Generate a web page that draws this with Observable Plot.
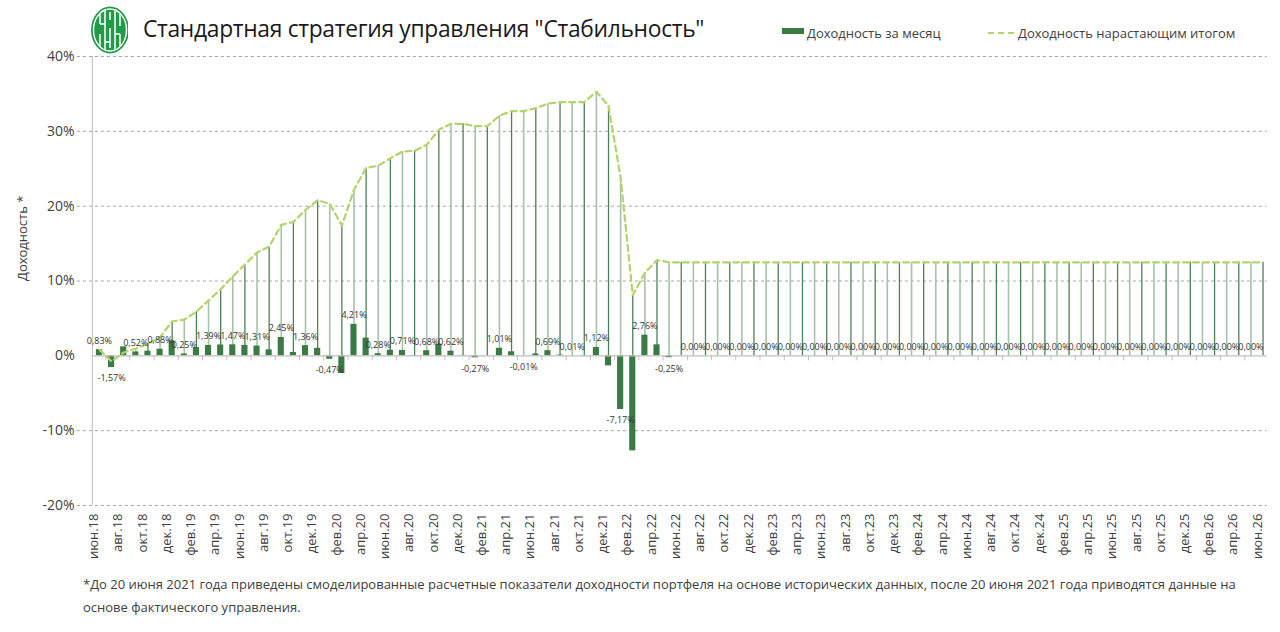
<!DOCTYPE html>
<html>
<head>
<meta charset="utf-8">
<script src="https://cdn.jsdelivr.net/npm/d3@7"></script>
<script src="https://cdn.jsdelivr.net/npm/@observablehq/plot@0.6"></script>
<style>
  html, body { margin: 0; padding: 0; background: #fff; }
  #wrap { position: relative; width: 1280px; height: 632px; overflow: hidden; font-family: "Open Sans", sans-serif; color: #404040; }
  #header { position: relative; height: 48px; }
  #logo { position: absolute; left: 88px; top: 4px; }
  #title { position: absolute; left: 143px; top: 13px; font-size: 22.8px; font-weight: 400; color: #1a1a1a; white-space: nowrap; letter-spacing: -0.3px; }
  .leg { position: absolute; top: 24px; font-size: 13px; color: #404040; white-space: nowrap; }
  #chart svg { display: block; }
  #foot { position: absolute; left: 83px; top: 573px; font-size: 13px; line-height: 23px; color: #404040; white-space: nowrap; }
</style>
</head>
<body>
<div id="wrap">
  <div id="header">
    <svg id="logo" width="44" height="54" viewBox="0 0 44 54">
      <defs><clipPath id="cl"><rect x="0" y="0" width="40" height="54"/></clipPath></defs>
      <g clip-path="url(#cl)">
        <ellipse cx="22" cy="26" rx="19" ry="23.5" fill="#249a48"/>
        <ellipse cx="22" cy="26" rx="16.5" ry="21" fill="none" stroke="#fff" stroke-width="1.4"/>
        <path d="M12 10 V20 M12 30 V42 M17 6 V46 M22 8 V16 M22 24 V44 M27 6 V46 M32 10 V22 M32 30 V42 M12 20 H17 M27 30 H32 M17 38 H22" stroke="#fff" stroke-width="1.5" fill="none"/>
      </g>
    </svg>
    <div id="title">Стандартная стратегия управления "Стабильность"</div>
    <svg style="position:absolute;left:782px;top:28px" width="23" height="7"><rect x="0" y="0" width="22" height="6" fill="#3b7a45"/></svg>
    <div class="leg" style="left:807px">Доходность за месяц</div>
    <svg style="position:absolute;left:988px;top:30px" width="26" height="6"><line x1="0" y1="3" x2="26" y2="3" stroke="#b2d46c" stroke-width="2" stroke-dasharray="6,4"/></svg>
    <div class="leg" style="left:1018px">Доходность нарастающим итогом</div>
  </div>
  <div id="chart"></div>
  <div id="foot">*До 20 июня 2021 года приведены смоделированные расчетные показатели доходности портфеля на основе исторических данных, после 20 июня 2021 года приводятся данные на<br>основе фактического управления.</div>
</div>
<script>
const months = [
  "июн.18","июл.18","авг.18","сен.18","окт.18","ноя.18","дек.18",
  "янв.19","фев.19","мар.19","апр.19","май.19","июн.19","июл.19","авг.19","сен.19","окт.19","ноя.19","дек.19",
  "янв.20","фев.20","мар.20","апр.20","май.20","июн.20","июл.20","авг.20","сен.20","окт.20","ноя.20","дек.20",
  "янв.21","фев.21","мар.21","апр.21","май.21","июн.21","июл.21","авг.21","сен.21","окт.21","ноя.21","дек.21",
  "янв.22","фев.22","мар.22","апр.22","май.22","июн.22","июл.22","авг.22","сен.22","окт.22","ноя.22","дек.22",
  "янв.23","фев.23","мар.23","апр.23","май.23","июн.23","июл.23","авг.23","сен.23","окт.23","ноя.23","дек.23",
  "янв.24","фев.24","мар.24","апр.24","май.24","июн.24","июл.24","авг.24","сен.24","окт.24","ноя.24","дек.24",
  "янв.25","фев.25","мар.25","апр.25","май.25","июн.25","июл.25","авг.25","сен.25","окт.25","ноя.25","дек.25",
  "янв.26","фев.26","мар.26","апр.26","май.26","июн.26"
];
// Доходность за месяц, %
const monthly = [
  0.83, -1.57, 1.20, 0.52, 0.62, 0.88, 2.00,
  0.25, 1.10, 1.39, 1.45, 1.47, 1.40, 1.31, 0.80, 2.45, 0.45, 1.36, 1.00,
  -0.47, -2.37, 4.21, 2.37, 0.28, 0.76, 0.71, 0.05, 0.68, 1.56, 0.62, 0.05,
  -0.27, 0.02, 1.01, 0.54, -0.01, 0.25, 0.69, 0.10, 0.01, 0.05, 1.12, -1.34,
  -7.17, -12.70, 2.76, 1.47, -0.25, 0, 0, 0, 0, 0, 0, 0,
  0, 0, 0, 0, 0, 0, 0, 0, 0, 0, 0, 0,
  0, 0, 0, 0, 0, 0, 0, 0, 0, 0, 0, 0,
  0, 0, 0, 0, 0, 0, 0, 0, 0, 0, 0, 0,
  0, 0, 0, 0, 0, 0
];
// Доходность нарастающим итогом, %
const cumulative = [
  0.83, -0.75, 0.45, 0.97, 1.60, 2.50, 4.60,
  4.85, 5.90, 7.40, 8.90, 10.60, 12.20, 13.80, 14.60, 17.50, 17.90, 19.50, 20.80,
  20.30, 17.40, 22.20, 25.10, 25.40, 26.40, 27.30, 27.40, 28.20, 30.20, 31.00, 31.00,
  30.70, 30.70, 32.10, 32.70, 32.70, 33.10, 33.70, 33.90, 33.90, 33.90, 35.30, 33.40,
  23.80, 8.10, 11.10, 12.80, 12.50, 12.50, 12.50, 12.50, 12.50, 12.50, 12.50, 12.50,
  12.50, 12.50, 12.50, 12.50, 12.50, 12.50, 12.50, 12.50, 12.50, 12.50, 12.50, 12.50,
  12.50, 12.50, 12.50, 12.50, 12.50, 12.50, 12.50, 12.50, 12.50, 12.50, 12.50, 12.50,
  12.50, 12.50, 12.50, 12.50, 12.50, 12.50, 12.50, 12.50, 12.50, 12.50, 12.50, 12.50,
  12.50, 12.50, 12.50, 12.50, 12.50, 12.50
];
const yTicks = [-20, -10, 0, 10, 20, 30, 40];
const xTicks = months.filter((d, i) => i % 2 === 0);
const xTickMarks = months.filter((d, i) => i % 2 === 0 && i < months.length - 1);

const data = months.map((month, i) => ({month, i, m: monthly[i], c: cumulative[i]}));
const labeled = data.filter(d => d.i === 0 || d.i % 2 === 1);
const fmt = v => v.toFixed(2).replace(".", ",") + "%";

const W = 1280, ML = 92.9, MR = 11.4;
const bw = (W - ML - MR) / months.length;

const chart = Plot.plot({
  width: W,
  height: 519,
  marginLeft: ML,
  marginRight: MR,
  marginTop: 8,
  marginBottom: 62,
  x: {type: "band", domain: months, padding: 0, round: false, axis: null},
  y: {domain: [-20, 40], axis: null},
  style: {fontFamily: "Open Sans, sans-serif", color: "#404040", background: "transparent", overflow: "visible"},
  marks: [
    Plot.ruleY(yTicks.filter(d => d !== 0), {stroke: "#a6a6a6", strokeDasharray: "3,3", strokeWidth: 1, insetLeft: -16, insetRight: 2}),
    Plot.ruleX([months[0]], {y1: -20, y2: 40, dx: -bw / 2 - 1, stroke: "#c8c8c8", strokeWidth: 1.2}),
    Plot.ruleX(data.filter(d => d.i % 2 === 0), {x: "month", y1: 0, y2: "c", stroke: "#4f8156", strokeWidth: 1.3}),
    Plot.ruleX(data.filter(d => d.i % 2 === 1), {x: "month", y1: 0, y2: "c", stroke: "#a6c2a8", strokeWidth: 1.6}),
    Plot.barY(data, {x: "month", y: "m", fill: "#3b7a45", insetLeft: 3, insetRight: 3}),
    Plot.ruleY([0], {stroke: "#c0c0c0", strokeWidth: 1.2, insetLeft: -1, insetRight: 2}),
    Plot.ruleX(xTickMarks, {x: d => d, y1: 0, y2: 0, insetBottom: -5, dx: bw / 2, stroke: "#c0c0c0"}),
    Plot.line(data, {x: "month", y: "c", stroke: "#b2d46c", strokeWidth: 2.2, strokeDasharray: "6,4"}),
    Plot.text(labeled.filter(d => d.m >= 0), {x: "month", y: "m", text: d => fmt(d.m), dy: -9, fontSize: 9, fill: "#333"}),
    Plot.text(labeled.filter(d => d.m < 0), {x: "month", y: "m", text: d => fmt(d.m), dy: 11, fontSize: 9, fill: "#333"}),
    Plot.axisY(yTicks, {tickSize: 0, tickPadding: 18.7, tickFormat: d => d + "%", fontSize: 14, label: null}),
    Plot.axisX(xTicks, {tickSize: 0, tickRotate: -90, tickPadding: 8, fontSize: 13, dx: -5.5, label: null}),
    Plot.text(["Доходность *"], {frameAnchor: "left", rotate: -90, dx: -71, fontSize: 13, fill: "#404040"})
  ]
});
document.getElementById("chart").appendChild(chart);
</script>
</body>
</html>
